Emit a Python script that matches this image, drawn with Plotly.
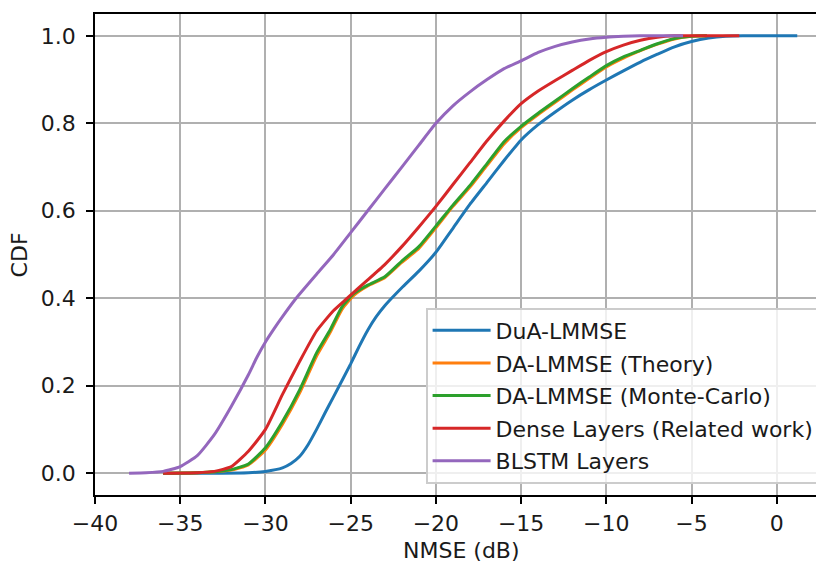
import plotly.graph_objects as go

# ---- data ----
dua_x = [-36, -33, -31, -30, -29, -28.5, -28, -27.5, -27, -26.5, -26, -25, -24.5, -24, -23.5, -23, -22.5, -22, -21, -20, -19, -18, -17, -16, -15, -14, -13, -12, -11, -10, -9, -8, -7, -6, -5, -4, -3, -2, 0, 1.2]
dua_y = [0, 0, 0.001, 0.004, 0.012, 0.022, 0.038, 0.065, 0.1, 0.138, 0.175, 0.25, 0.29, 0.327, 0.358, 0.383, 0.404, 0.424, 0.462, 0.505, 0.56, 0.615, 0.665, 0.715, 0.762, 0.797, 0.826, 0.853, 0.877, 0.899, 0.92, 0.94, 0.958, 0.975, 0.987, 0.995, 0.999, 1.0, 1.0, 1.0]

th_x = [-36, -34, -33, -32, -31, -30, -29, -28, -27, -26.2, -25.5, -24.8, -24, -23, -22, -21, -20, -19, -18, -17, -16, -15, -14, -13, -12, -11, -10, -9, -8, -7, -6, -5, -4.1]
th_y = [0, 0.001, 0.003, 0.007, 0.019, 0.053, 0.112, 0.183, 0.268, 0.322, 0.375, 0.407, 0.428, 0.447, 0.482, 0.514, 0.561, 0.61, 0.654, 0.704, 0.753, 0.79, 0.82, 0.848, 0.876, 0.903, 0.929, 0.949, 0.966, 0.981, 0.993, 0.999, 1.0]

mc_x = [-36, -34, -33, -32, -31, -30, -29, -28, -27, -26.2, -25.5, -24.8, -24, -23, -22, -21, -20, -19, -18, -17, -16, -15, -14, -13, -12, -11, -10, -9, -8, -7, -6, -5, -4.1]
mc_y = [0, 0.001, 0.003, 0.008, 0.021, 0.058, 0.118, 0.19, 0.275, 0.328, 0.381, 0.411, 0.43, 0.449, 0.485, 0.518, 0.565, 0.613, 0.658, 0.708, 0.758, 0.793, 0.823, 0.851, 0.879, 0.906, 0.932, 0.952, 0.967, 0.982, 0.994, 0.999, 1.0]

dense_x = [-36, -34, -33, -32, -31, -30, -29, -28, -27, -26, -25.2, -24.5, -24, -23, -22, -21, -20, -19, -18, -17, -16, -15, -14, -13, -12, -11, -10, -9, -8, -7, -6, -2.2]
dense_y = [0, 0.001, 0.004, 0.015, 0.05, 0.1, 0.18, 0.255, 0.325, 0.372, 0.4, 0.425, 0.442, 0.477, 0.518, 0.563, 0.61, 0.66, 0.71, 0.76, 0.805, 0.845, 0.874, 0.898, 0.921, 0.944, 0.964, 0.979, 0.99, 0.997, 1.0, 1.0]

blstm_x = [-38, -37, -36, -35, -34, -33, -32, -31, -30.5, -30, -29.5, -29, -28.2, -27, -26, -25, -24, -23, -22, -21, -20, -19, -18, -17, -16, -15, -14, -13, -12, -11, -10, -9, -8, -5.5]
blstm_y = [0, 0.001, 0.004, 0.015, 0.04, 0.088, 0.153, 0.225, 0.265, 0.3, 0.33, 0.358, 0.4, 0.455, 0.5, 0.55, 0.6, 0.65, 0.7, 0.75, 0.8, 0.84, 0.872, 0.9, 0.925, 0.943, 0.962, 0.976, 0.986, 0.993, 0.997, 0.999, 1.0, 1.0]

series = [
    ("DuA-LMMSE", dua_x, dua_y, "#1f77b4"),
    ("DA-LMMSE (Theory)", th_x, th_y, "#ff7f0e"),
    ("DA-LMMSE (Monte-Carlo)", mc_x, mc_y, "#2ca02c"),
    ("Dense Layers (Related work)", dense_x, dense_y, "#d62728"),
    ("BLSTM Layers", blstm_x, blstm_y, "#9467bd"),
]

x_ticks = [-40, -35, -30, -25, -20, -15, -10, -5, 0]
y_ticks = [0.0, 0.2, 0.4, 0.6, 0.8, 1.0]

FONT = "DejaVu Sans"
FS = 22
TXT = "#1a1a1a"

fig = go.Figure()
for i, (name, xs, ys, col) in enumerate(series):
    fig.add_trace(go.Scatter(
        x=xs, y=ys, name=name, mode="lines",
        line=dict(color=col, width=3, shape="spline", smoothing=0.5),
        legendgroup=f"g{i}",
    ))

axis_common = dict(
    showgrid=True, gridcolor="#b0b0b0", gridwidth=1.6,
    showline=True, linecolor="black", linewidth=1.6,
    ticks="outside", ticklen=7, tickwidth=1.6, tickcolor="black",
    tickfont=dict(family=FONT, size=FS, color=TXT),
    zeroline=False,
)

# the page body adds an 8px offset, so the figure is 8px smaller on each side
fig.update_layout(
    width=816, height=557,
    margin=dict(l=87, r=0, t=6, b=70),
    paper_bgcolor="white", plot_bgcolor="white",
    font=dict(family=FONT, size=FS, color=TXT),
    xaxis=dict(range=[-40, 2.77], tickvals=x_ticks, mirror=True, ticklabelstandoff=1, **axis_common),
    yaxis=dict(range=[-0.05, 1.05], tickvals=y_ticks, tickformat=".1f", ticklabelstandoff=6, **axis_common),
    legend=dict(
        x=0.9945, y=0.023, xanchor="right", yanchor="bottom",
        bgcolor="rgba(255,255,255,0.8)", bordercolor="#cccccc", borderwidth=1.6,
        font=dict(family=FONT, size=FS, color=TXT),
        tracegroupgap=1, itemwidth=58,
    ),
    showlegend=True,
    annotations=[
        dict(text="NMSE (dB)", xref="x", yref="paper", x=-18.49, y=-0.1164,
             xanchor="center", yanchor="middle", showarrow=False,
             font=dict(family=FONT, size=FS, color=TXT)),
        dict(text="CDF", xref="paper", yref="paper", x=-0.103, y=0.5,
             xanchor="center", yanchor="middle", showarrow=False, textangle=-90,
             font=dict(family=FONT, size=FS, color=TXT)),
    ],
)

fig.write_html("out.html")
